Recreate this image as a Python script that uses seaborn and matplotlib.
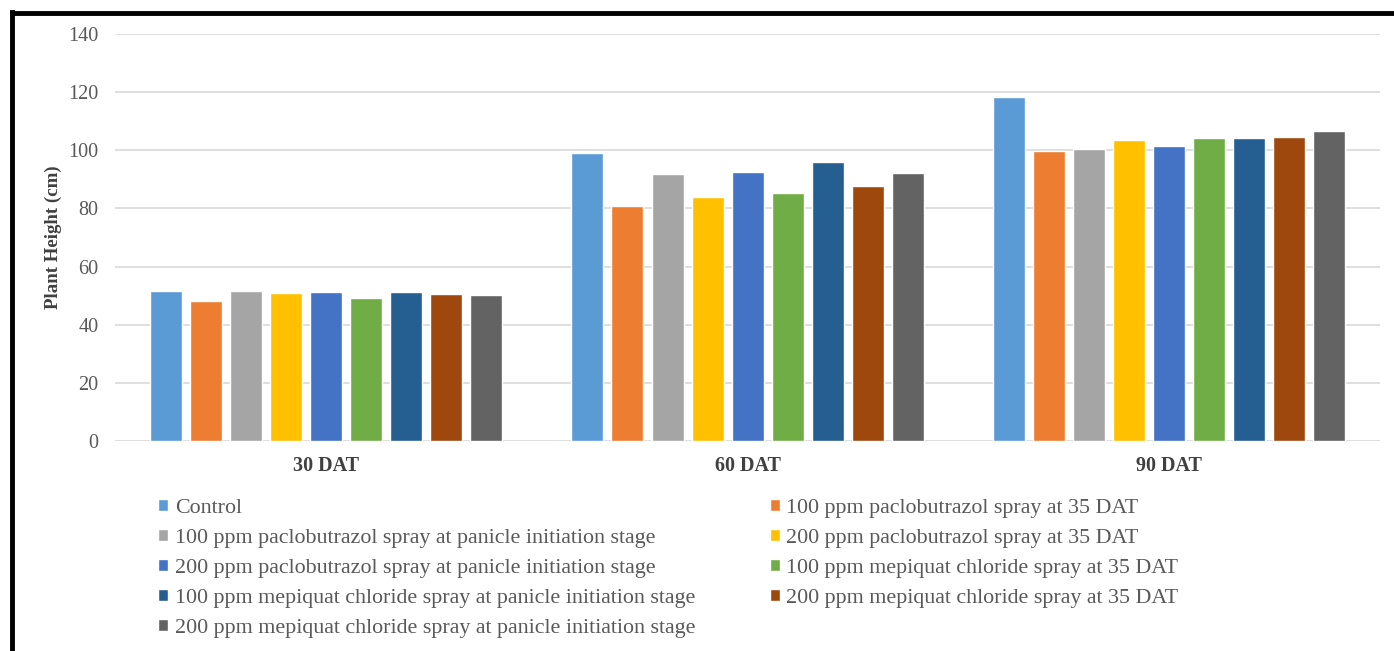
import numpy as np
import pandas as pd
import matplotlib
matplotlib.use("Agg")
import matplotlib.pyplot as plt
from matplotlib.lines import Line2D
import seaborn as sns

# ---- data ----
stages = ["30 DAT", "60 DAT", "90 DAT"]
treatments = [
    "Control",
    "100 ppm paclobutrazol spray at 35 DAT",
    "100 ppm paclobutrazol spray at panicle initiation stage",
    "200 ppm paclobutrazol spray at 35 DAT",
    "200 ppm paclobutrazol spray at panicle initiation stage",
    "100 ppm mepiquat chloride spray at 35 DAT",
    "100 ppm mepiquat chloride spray at panicle initiation stage",
    "200 ppm mepiquat chloride spray at 35 DAT",
    "200 ppm mepiquat chloride spray at panicle initiation stage",
]
height_30 = [51.6, 48.2, 51.7, 51.0, 51.3, 49.3, 51.2, 50.7, 50.2]
height_60 = [99.2, 80.8, 91.7, 84.0, 92.6, 85.4, 96.0, 87.8, 92.1]
height_90 = [118.2, 99.8, 100.6, 103.7, 101.6, 104.1, 104.1, 104.7, 106.6]
colors = ["#5B9BD5", "#ED7D31", "#A5A5A5", "#FFC000", "#4472C4",
          "#70AD47", "#255E91", "#9E480E", "#636363"]
y_ticks = [0, 20, 40, 60, 80, 100, 120, 140]

rows = []
for stage, vals in zip(stages, [height_30, height_60, height_90]):
    for t, v in zip(treatments, vals):
        rows.append({"Stage": stage, "Treatment": t, "Height": v})
df = pd.DataFrame(rows)

sns.set_theme(style="white")
plt.rcParams["font.family"] = ["Liberation Serif", "DejaVu Serif"]

fig = plt.figure(figsize=(13.94, 6.51), dpi=100)
ax = fig.add_axes([0.0825, 0.3226, 0.9075, 0.6252])

sns.barplot(data=df, x="Stage", y="Height", hue="Treatment",
            order=stages, hue_order=treatments, palette=colors,
            width=0.854, gap=0.2, ax=ax, saturation=1.0, legend=True,
            zorder=3)

ax.set_xlim(-0.5, 2.5)
ax.set_ylim(0, 140)
ax.set_yticks(y_ticks)
ax.yaxis.grid(True, color="#D9D9D9", linewidth=1.2, zorder=0)
ax.set_axisbelow(True)
for s in ax.spines.values():
    s.set_visible(False)
ax.tick_params(axis="y", length=0, pad=12, labelsize=14.5, labelcolor="#595959")
ax.tick_params(axis="x", length=0, pad=11, labelsize=14.5, labelcolor="#404040")
for lbl in ax.get_xticklabels():
    lbl.set_fontweight("bold")
ax.set_xlabel("")
ax.set_ylabel("Plant Height (cm)", fontsize=13.6, fontweight="bold",
              color="#404040", labelpad=4.5)

handles, labels = ax.get_legend_handles_labels()
ax.get_legend().remove()
order = [0, 2, 4, 6, 8, 1, 3, 5, 7]
leg = fig.legend([handles[i] for i in order], [labels[i] for i in order],
                 ncol=2, loc="upper left", bbox_to_anchor=(0.1135, 0.234),
                 frameon=False, fontsize=15.8, handlelength=0.45,
                 handleheight=0.45, handletextpad=0.3, labelspacing=0.5,
                 columnspacing=3.4, borderaxespad=0, borderpad=0)
for txt in leg.get_texts():
    txt.set_color("#595959")

# outer frame (top and left edges visible in reference)
fig.add_artist(Line2D([12 / 1394, 12 / 1394], [0, 1 - 12 / 651],
                      transform=fig.transFigure, color="black", linewidth=3.5,
                      solid_capstyle="projecting"))
fig.add_artist(Line2D([12 / 1394, 1], [1 - 12.5 / 651, 1 - 12.5 / 651],
                      transform=fig.transFigure, color="black", linewidth=3.5,
                      solid_capstyle="projecting"))

fig.savefig("out.png", dpi=100)
